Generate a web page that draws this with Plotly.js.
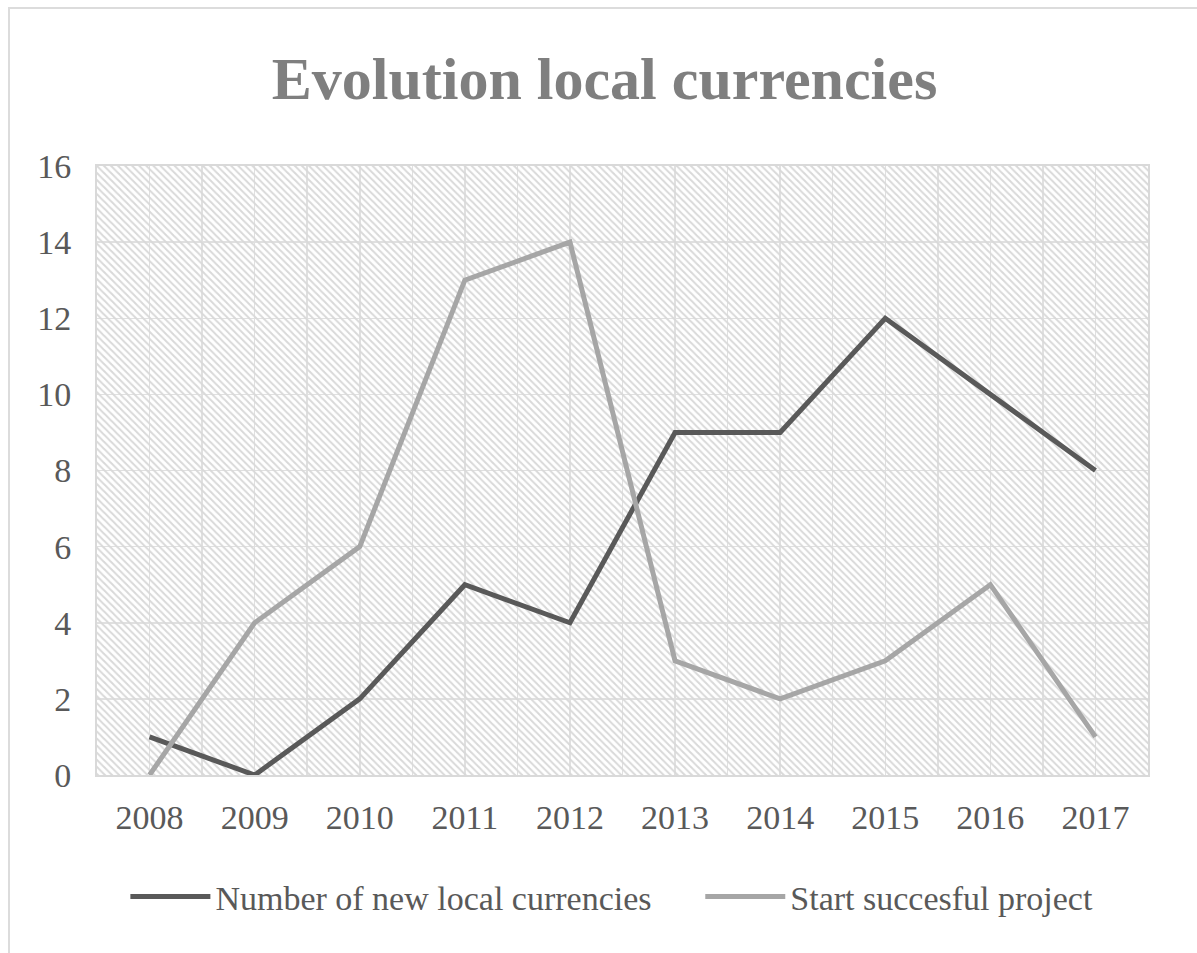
<!DOCTYPE html>
<html>
<head>
<meta charset="utf-8">
<script src="https://cdn.plot.ly/plotly-3.0.1.min.js"></script>
<style>
  html, body { margin: 0; padding: 0; background: #fff; }
  #chart { position: absolute; left: 0; top: 0; width: 1197px; height: 953px; }
  #frame { position: absolute; left: 8px; top: 7px; width: 1300px; height: 1000px;
           border-left: 2px solid #dcdcdc; border-top: 2px solid #dcdcdc; pointer-events: none; }
</style>
</head>
<body>
<div id="chart"></div>
<div id="frame"></div>
<script>
const years = [2008, 2009, 2010, 2011, 2012, 2013, 2014, 2015, 2016, 2017];
const newLocalCurrencies = [1, 0, 2, 5, 4, 9, 9, 12, 10, 8];
const startSuccessfulProject = [0, 4, 6, 13, 14, 3, 2, 3, 5, 1];
const seriesNames = ["Number of new local currencies", "Start succesful project"];
const chartTitle = "Evolution local currencies";

const serif = "Liberation Serif, Times New Roman, serif";

const traces = [
  {
    type: "bar",
    x: [(years[0] + years[years.length - 1]) / 2],
    y: [16],
    base: [0],
    width: [years.length],
    marker: {
      color: "rgba(0,0,0,0)",
      line: { width: 0 },
      pattern: { shape: "\\", fgcolor: "#d9d9d9", bgcolor: "rgba(0,0,0,0)", size: 5, solidity: 0.4 }
    },
    hoverinfo: "skip",
    showlegend: false
  },
  {
    type: "scatter", mode: "lines",
    name: seriesNames[0],
    x: years, y: newLocalCurrencies,
    line: { color: "#595959", width: 5 },
    legend: "legend"
  },
  {
    type: "scatter", mode: "lines",
    name: seriesNames[1],
    x: years, y: startSuccessfulProject,
    line: { color: "#a6a6a6", width: 5 },
    legend: "legend2"
  }
];

const legendBase = {
  orientation: "h",
  xanchor: "left",
  y: -0.2, yanchor: "middle",
  font: { family: serif, size: 34, color: "#595959" },
  itemwidth: 80,
  bgcolor: "rgba(0,0,0,0)"
};

const layout = {
  width: 1197, height: 953,
  margin: { l: 97, r: 49, t: 166, b: 178 },
  paper_bgcolor: "#ffffff",
  plot_bgcolor: "#ffffff",
  font: { family: serif, color: "#595959", size: 34 },
  title: {
    text: "<b>" + chartTitle + "</b>",
    font: { family: serif, size: 60, color: "#7f7f7f" },
    x: 0.505, xanchor: "center",
    y: 0.918, yanchor: "middle", yref: "container"
  },
  xaxis: {
    range: [years[0] - 0.5, years[years.length - 1] + 0.5],
    tickmode: "array",
    tickvals: years,
    ticktext: years.map(String),
    showgrid: true, gridcolor: "#e0e0e0", gridwidth: 1.5,
    minor: { tickmode: "linear", tick0: years[0] - 0.5, dtick: 1, showgrid: true, gridcolor: "#e0e0e0", gridwidth: 1.5, ticks: "" },
    showline: true, linecolor: "#d9d9d9", linewidth: 2, mirror: true,
    zeroline: false, ticks: "",
    ticklabelstandoff: 11,
    tickfont: { family: serif, size: 34, color: "#595959" },
    fixedrange: true
  },
  yaxis: {
    range: [0, 16],
    dtick: 2, tick0: 0,
    showgrid: true, gridcolor: "#e0e0e0", gridwidth: 1.5,
    showline: true, linecolor: "#d9d9d9", linewidth: 2, mirror: true,
    zeroline: false, ticks: "",
    ticklabelstandoff: 17,
    tickfont: { family: serif, size: 34, color: "#595959" },
    fixedrange: true
  },
  showlegend: true,
  legend: Object.assign({}, legendBase, { x: 0.027 }),
  legend2: Object.assign({}, legendBase, { x: 0.574 }),
  hovermode: false
};

Plotly.newPlot("chart", traces, layout, { displayModeBar: false, staticPlot: true });
</script>
</body>
</html>
